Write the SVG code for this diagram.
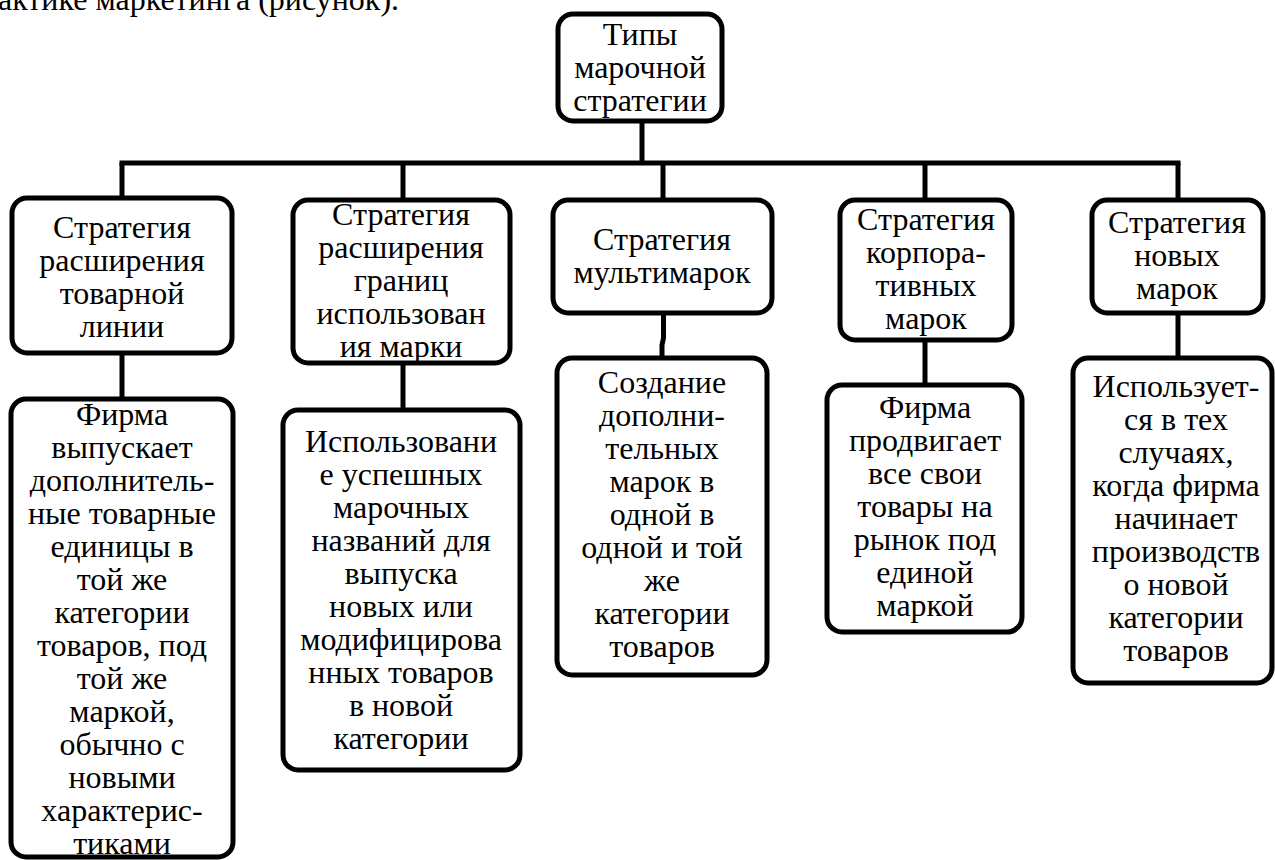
<svg xmlns="http://www.w3.org/2000/svg" width="1275" height="860" viewBox="0 0 1275 860">
<style>
.box{fill:#fff;stroke:#000;stroke-width:5}
.ln{fill:none;stroke:#000;stroke-width:5}
.t text{text-anchor:middle}
</style>
<rect width="1275" height="860" fill="#fff"/>
<g font-family="Liberation Serif, Times New Roman, serif" font-size="32" fill="#000">
<text x="-2" y="10">актике маркетинга (рисунок).</text>
<g id="connectors">
<line class="ln" x1="642" y1="121" x2="642" y2="163"/>
<line class="ln" x1="119.5" y1="163" x2="1180.5" y2="163"/>
<line class="ln" x1="122" y1="163" x2="122" y2="198"/>
<line class="ln" x1="403" y1="163" x2="403" y2="200"/>
<line class="ln" x1="663" y1="163" x2="663" y2="200"/>
<line class="ln" x1="925" y1="163" x2="925" y2="200"/>
<line class="ln" x1="1178" y1="163" x2="1178" y2="200"/>
<line class="ln" x1="122" y1="353" x2="122" y2="399"/>
<line class="ln" x1="403" y1="363" x2="403" y2="410"/>
<polyline class="ln" points="663.5,313 663.5,338 662,345 662,358"/>
<line class="ln" x1="925" y1="340" x2="925" y2="385"/>
<line class="ln" x1="1178" y1="313" x2="1178" y2="358"/>
</g>
<g id="root" class="t">
<rect class="box" x="558" y="14" width="164" height="107" rx="15"/>
<text x="640" y="45">Типы</text>
<text x="640" y="78">марочной</text>
<text x="640" y="111">стратегии</text>
</g>
<g id="s1" class="t">
<rect class="box" x="12" y="198" width="220" height="155" rx="15"/>
<text x="122" y="238">Стратегия</text>
<text x="122" y="271">расширения</text>
<text x="122" y="304">товарной</text>
<text x="122" y="337">линии</text>
</g>
<g id="d1" class="t">
<rect class="box" x="11" y="399" width="222" height="458" rx="15"/>
<text x="122" y="425">Фирма</text>
<text x="122" y="458">выпускает</text>
<text x="122" y="491">дополнитель-</text>
<text x="122" y="524">ные товарные</text>
<text x="122" y="557">единицы в</text>
<text x="122" y="590">той же</text>
<text x="122" y="623">категории</text>
<text x="122" y="656">товаров, под</text>
<text x="122" y="689">той же</text>
<text x="122" y="722">маркой,</text>
<text x="122" y="755">обычно с</text>
<text x="122" y="788">новыми</text>
<text x="122" y="821">характерис-</text>
<text x="122" y="854">тиками</text>
</g>
<g id="s2" class="t">
<rect class="box" x="293" y="200" width="217" height="163" rx="15"/>
<text x="401" y="225">Стратегия</text>
<text x="401" y="258">расширения</text>
<text x="401" y="291">границ</text>
<text x="401" y="324">использован</text>
<text x="401" y="357">ия марки</text>
</g>
<g id="d2" class="t">
<rect class="box" x="283" y="410" width="237" height="360" rx="15"/>
<text x="401" y="452">Использовани</text>
<text x="401" y="485">е успешных</text>
<text x="401" y="518">марочных</text>
<text x="401" y="551">названий для</text>
<text x="401" y="584">выпуска</text>
<text x="401" y="617">новых или</text>
<text x="401" y="650">модифицирова</text>
<text x="401" y="683">нных товаров</text>
<text x="401" y="716">в новой</text>
<text x="401" y="749">категории</text>
</g>
<g id="s3" class="t">
<rect class="box" x="553" y="200" width="219" height="113" rx="15"/>
<text x="662" y="250">Стратегия</text>
<text x="662" y="283">мультимарок</text>
</g>
<g id="d3" class="t">
<rect class="box" x="557" y="358" width="210" height="317" rx="15"/>
<text x="662" y="393">Создание</text>
<text x="662" y="426">дополни-</text>
<text x="662" y="459">тельных</text>
<text x="662" y="492">марок в</text>
<text x="662" y="525">одной в</text>
<text x="662" y="558">одной и той</text>
<text x="662" y="591">же</text>
<text x="662" y="624">категории</text>
<text x="662" y="657">товаров</text>
</g>
<g id="s4" class="t">
<rect class="box" x="840" y="200" width="172" height="140" rx="15"/>
<text x="926" y="230">Стратегия</text>
<text x="926" y="263">корпора-</text>
<text x="926" y="296">тивных</text>
<text x="926" y="329">марок</text>
</g>
<g id="d4" class="t">
<rect class="box" x="827" y="385" width="195" height="247" rx="15"/>
<text x="925" y="418">Фирма</text>
<text x="925" y="451">продвигает</text>
<text x="925" y="484">все свои</text>
<text x="925" y="517">товары на</text>
<text x="925" y="550">рынок под</text>
<text x="925" y="583">единой</text>
<text x="925" y="616">маркой</text>
</g>
<g id="s5" class="t">
<rect class="box" x="1092" y="200" width="171" height="113" rx="15"/>
<text x="1177" y="233">Стратегия</text>
<text x="1177" y="266">новых</text>
<text x="1177" y="299">марок</text>
</g>
<g id="d5" class="t">
<rect class="box" x="1073" y="358" width="199" height="325" rx="15"/>
<text x="1176" y="397">Использует-</text>
<text x="1176" y="430">ся в тех</text>
<text x="1176" y="463">случаях,</text>
<text x="1176" y="496">когда фирма</text>
<text x="1176" y="529">начинает</text>
<text x="1176" y="562">производств</text>
<text x="1176" y="595">о новой</text>
<text x="1176" y="628">категории</text>
<text x="1176" y="661">товаров</text>
</g>
</g>
</svg>
